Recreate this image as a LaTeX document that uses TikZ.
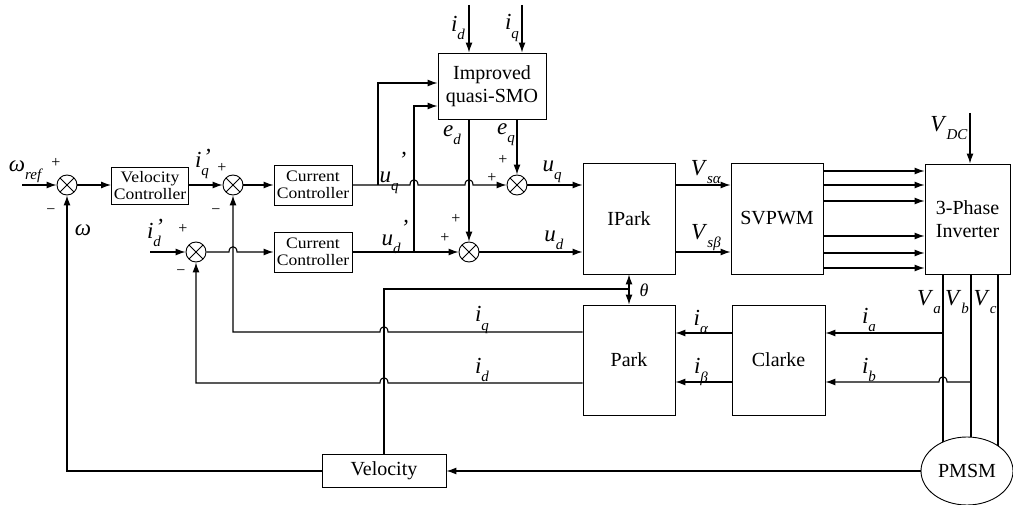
\documentclass[tikz,border=0pt]{standalone}
\usepackage{fontspec}
\setmainfont{Liberation Serif}
\usetikzlibrary{arrows.meta,calc,shapes.geometric}
\newcommand\subf{\fontsize{15}{15}\selectfont}
\newcommand\ml[2]{\textit{#1}\raisebox{-0.35em}{\subf\textit{#2}}}
\newcommand\mlp[4]{\textit{#2}\raisebox{-0.35em}{\subf\textit{#3}}\kern#4\raisebox{#1}{\textit{'}}}
\begin{document}
\begin{tikzpicture}[x=1pt,y=-1pt,line width=1.1pt,
 >={Latex[length=10pt,width=7pt]},
 blk/.style={draw,line width=0.9pt,align=center,inner sep=1pt},
 cf/.style={font=\fontsize{16}{17}\selectfont\addfontfeature{FakeStretch=1.1}},
 bf/.style={font=\fontsize{20}{23}\selectfont},
 sumn/.style={circle,draw,line width=0.9pt,minimum size=20pt,inner sep=0pt,
   path picture={\draw[line width=0.9pt] ($(path picture bounding box.center)+(-7,-7)$) -- ($(path picture bounding box.center)+(7,7)$);
                 \draw[line width=0.9pt] ($(path picture bounding box.center)+(-7,7)$) -- ($(path picture bounding box.center)+(7,-7)$);}},
 lab/.style={font=\fontsize{23}{23}\selectfont,inner sep=0pt},
 sgn/.style={font=\fontsize{16}{16}\selectfont,inner sep=0pt}]
\useasboundingbox (0,0) rectangle (1013,505);

% blocks
\node[sumn] (s1) at (67,185) {};
\node[blk,cf,minimum width=77pt,minimum height=37pt] (vc) at (150,186) {Velocity\\Controller};
\node[sumn] (s2) at (233,185) {};
\node[sumn] (s3) at (196,252) {};
\node[blk,cf,minimum width=78pt,minimum height=40pt] (cc1) at (313,185) {Current\\Controller};
\node[blk,cf,minimum width=78pt,minimum height=40pt] (cc2) at (313,252) {Current\\Controller};
\node[blk,bf,minimum width=108pt,minimum height=66pt] (smo) at (492,86) {Improved\\quasi-SMO};
\node[sumn] (s4) at (517,185) {};
\node[sumn] (s5) at (469,252) {};
\node[blk,bf,minimum width=92pt,minimum height=111pt] (ipark) at (629,218.5) {IPark};
\node[blk,bf,minimum width=92pt,minimum height=111pt] (svpwm) at (777,218.5) {SVPWM};
\node[blk,bf,minimum width=85pt,minimum height=110pt] (inv) at (967.5,219) {3-Phase\\Inverter};
\node[blk,bf,minimum width=92pt,minimum height=110pt] (park) at (629,360) {Park};
\node[blk,bf,minimum width=93pt,minimum height=110pt] (clarke) at (778.5,360) {Clarke};
\node[blk,bf,minimum width=124pt,minimum height=33pt] (vel) at (384,471) {Velocity};

% coordinates
\coordinate (wref) at (22,185);
\coordinate (idin) at (150,252);
\coordinate (uqj) at (378,185);
\coordinate (udj) at (414,252);
\coordinate (smoa) at (378,83);
\coordinate (smob) at (414,106);
\coordinate (idt) at (469,5);
\coordinate (iqt) at (522,5);
\coordinate (vdc) at (970,113);
\coordinate (pa) at (943,0);
\coordinate (pb) at (971,0);
\coordinate (pc) at (998,0);
\coordinate (pmc) at (967,471);
\coordinate (ia) at (943,333);
\coordinate (ib) at (971,382);
\coordinate (iqy) at (0,332);
\coordinate (idy) at (0,383);
\coordinate (thj) at (629,289);

% forward path
\draw[->] (wref) -- (s1.west);
\draw[->] (s1.east) -- (s1.east -| vc.west);
\draw[->] (vc.east |- s2) -- (s2.west);
\draw[->] (s2.east) -- (cc1.west);
\draw[->] (idin) -- (s3.west);
\draw[->] (s3.east) -- (229,252) .. controls (229,245) and (237,245) .. (237,252) -- (cc2.west);
\draw[->] (cc1.east) -- (410,185) .. controls (410,178) and (418,178) .. (418,185) -- (465,185) .. controls (465,178) and (473,178) .. (473,185) -- (s4.west);
\draw[->] (uqj) -- (smoa) -- (smoa -| smo.west);
\draw[->] (udj) -- (smob) -- (smob -| smo.west);
\draw[->] (cc2.east) -- (s5.west);
\draw[->] (idt) -- (idt |- smo.north);
\draw[->] (iqt) -- (iqt |- smo.north);
\draw[->] (s5 |- smo.south) -- (s5.north);
\draw[->] (s4 |- smo.south) -- (s4.north);
\draw[->] (s4.east) -- (s4.east -| ipark.west);
\draw[->] (s5.east) -- (s5.east -| ipark.west);
\draw[->] (ipark.east |- s4) -- (svpwm.west |- s4);
\draw[->] (ipark.east |- s5) -- (svpwm.west |- s5);
\foreach \y in {171,185,201,236,253,268}{
  \coordinate (tmp) at (0,\y);
  \draw[->] (svpwm.east |- tmp) -- (inv.west |- tmp);
}
\draw[->] (vdc) -- (vdc |- inv.north);

% phase lines and motor
\draw (pa |- inv.south) -- (pa |- pmc);
\draw (pb |- inv.south) -- (pb |- pmc);
\draw (pc |- inv.south) -- (pc |- pmc);
\node[ellipse,draw,fill=white,line width=0.9pt,minimum width=92pt,minimum height=68pt,inner sep=0pt,font=\fontsize{20}{20}\selectfont] (pmsm) at (pmc) {PMSM};

% feedback
\draw[->] (ia) -- (ia -| clarke.east);
\draw[->] (ib) -- (947,382) .. controls (947,375) and (939,375) .. (939,382) -- (ib -| clarke.east);
\draw[->] (clarke.west |- ia) -- (park.east |- ia);
\draw[->] (clarke.west |- ib) -- (park.east |- ib);
\draw[->] (park.west |- iqy) -- (388,332) .. controls (388,325) and (380,325) .. (380,332) -- (233,332) -- (s2.south);
\draw[->] (park.west |- idy) -- (388,383) .. controls (388,376) and (380,376) .. (380,383) -- (196,383) -- (s3.south);
\draw[<->] (ipark.south) -- (park.north);
\draw (vel.north) -- (vel.north |- thj) -- (thj);
\draw[->] (pmsm.west) -- (vel.east);
\draw[->] (vel.west) -- (vel.west -| s1) -- (s1.south);

% labels
\node[lab] at (26,172) {\ml{ω}{ref}};
\node[sgn] at (56,163) {+};
\node[sgn] at (51,212) {−};
\node[lab] at (203,164) {\mlp{0.1em}{i}{q}{-0.25em}};
\node[lab] at (83,230) {\textit{ω}};
\node[sgn] at (222,168) {+};
\node[sgn] at (216,212) {−};
\node[lab] at (155,233) {\mlp{0.15em}{i}{d}{-0.25em}};
\node[sgn] at (183,229) {+};
\node[sgn] at (181,273) {−};
\node[lab] at (393,173) {\mlp{0.65em}{u}{q}{0pt}};
\node[lab] at (395,237) {\mlp{0.4em}{u}{d}{0pt}};
\node[lab] at (458,28) {\ml{i}{d}};
\node[lab] at (512,28) {\ml{i}{q}};
\node[lab] at (452,135) {\ml{e}{d}};
\node[lab] at (506,135) {\ml{e}{q}};
\node[sgn] at (503,160) {+};
\node[sgn] at (492,178) {+};
\node[sgn] at (456,219) {+};
\node[sgn] at (445,238) {+};
\node[lab] at (552,172) {\ml{u}{q}};
\node[lab] at (554,240) {\ml{u}{d}};
\node[lab] at (706,172) {\ml{V}{sα}};
\node[lab] at (706,238) {\ml{V}{sβ}};
\node[lab] at (949,128) {\ml{V}{DC}};
\node[lab] at (929,302) {\ml{V}{a}};
\node[lab] at (957,302) {\ml{V}{b}};
\node[lab] at (985,302) {\ml{V}{c}};
\node[lab] at (869,320) {\ml{i}{a}};
\node[lab] at (869,370) {\ml{i}{b}};
\node[lab] at (701,322) {\ml{i}{α}};
\node[lab] at (701,372) {\ml{i}{β}};
\node[lab] at (482,320) {\ml{i}{q}};
\node[lab] at (482,370) {\ml{i}{d}};
\node[lab,font=\fontsize{18}{18}\selectfont] at (644,290) {\textit{θ}};
\end{tikzpicture}
\end{document}
